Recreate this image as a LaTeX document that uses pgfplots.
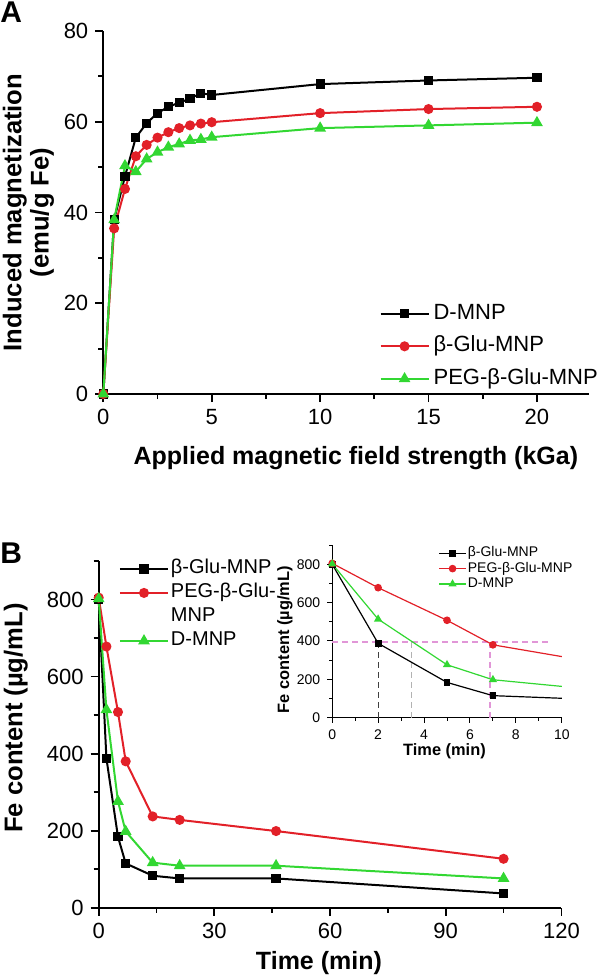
\documentclass[border=0pt]{standalone}
\usepackage{fontspec}
\setmainfont{Liberation Sans}
\usepackage{pgfplots}
\pgfplotsset{compat=1.18}
\definecolor{mred}{RGB}{226,32,40}
\definecolor{mgreen}{RGB}{50,215,50}
\definecolor{dpink}{RGB}{225,150,215}
\pgfplotsset{
  base/.style={
    scale only axis, clip=false,
    axis x line*=bottom, axis y line*=left,
    tick align=outside,
    /pgf/number format/assume math mode=true,
    tick style={black, line width=0.9pt},
    axis line style={line width=1.1pt, black},
    major tick length=4pt, minor tick length=2.5pt,
    legend cell align=left,
    legend image code/.code={\draw[mark repeat=2,mark phase=2,##1] plot coordinates {(0pt,0pt)(12pt,0pt)(24pt,0pt)};},
  },
  sblack/.style={black, line width=1pt, mark=square*, mark size=1.8pt, mark options={solid}},
  sred/.style={mred, line width=1pt, mark=*, mark size=2pt, mark options={solid}},
  sgreen/.style={mgreen, line width=1pt, mark=triangle*, mark size=2.4pt, mark options={solid}},
}
\begin{document}
\begin{tikzpicture}
\path[use as bounding box] (0,0) rectangle (300pt,-489.5pt);
\node[anchor=north west, inner sep=0pt, font=\bfseries\fontsize{15}{15}\selectfont] at (0pt,-0.5pt) {A};
\node[anchor=north west, inner sep=0pt, font=\bfseries\fontsize{15}{15}\selectfont] at (0pt,-271pt) {B};

% Panel A
\begin{axis}[base,
  at={(51.65pt,-197pt)}, anchor=south west,
  width=242.85pt, height=181.5pt,
  xmin=0, xmax=22.4, ymin=0, ymax=80,
  xtick={0,5,10,15,20}, ytick={0,20,40,60,80},
  minor xtick={2.5,7.5,12.5,17.5}, minor ytick={10,30,50,70},
  ticklabel style={font=\fontsize{11}{13}\selectfont},
  xlabel={Applied magnetic field strength (kGa)},
  xlabel style={font=\bfseries\fontsize{12.5}{15}\selectfont, at={(axis description cs:0.52,-0.176)}, anchor=center},
  ylabel={Induced magnetization\\(emu/g Fe)},
  ylabel style={font=\bfseries\fontsize{12.8}{13.6}\selectfont, align=center, at={(axis description cs:-0.154,0.5)}, anchor=center},
  legend style={at={(axis description cs:0.568,0.262)}, anchor=north west, draw=none, fill=none, inner sep=0pt,
    row sep=1.75pt, font=\fontsize{11}{13}\selectfont,
    nodes={inner sep=2pt, text height=8pt, text depth=2.5pt}},
]
\addplot[sblack] coordinates {(0,0)(0.5,38.4)(1,48.0)(1.5,56.5)(2,59.7)(2.5,61.9)(3,63.3)(3.5,64.2)(4,65.1)(4.5,66.3)(5,65.9)(10,68.3)(15,69.1)(20,69.7)};
\addlegendentry{D-MNP}
\addplot[sred] coordinates {(0,0)(0.5,36.5)(1,45.2)(1.5,52.4)(2,54.9)(2.5,56.5)(3,57.7)(3.5,58.6)(4,59.2)(4.5,59.6)(5,59.9)(10,61.9)(15,62.8)(20,63.3)};
\addlegendentry{β-Glu-MNP}
\addplot[sgreen] coordinates {(0,0)(0.5,38.4)(1,50.3)(1.5,49.0)(2,51.8)(2.5,53.3)(3,54.4)(3.5,55.1)(4,55.9)(4.5,56.1)(5,56.6)(10,58.6)(15,59.2)(20,59.8)};
\addlegendentry{PEG-β-Glu-MNP}
\end{axis}

% Panel B main
\begin{axis}[base,
  at={(49.35pt,-453.85pt)}, anchor=south west,
  width=231.35pt, height=173.35pt,
  xmin=0, xmax=120, ymin=0, ymax=900,
  xtick={0,30,60,90,120}, ytick={0,200,400,600,800},
  minor xtick={15,45,75,105}, minor ytick={100,300,500,700,900},
  ticklabel style={font=\fontsize{11}{13}\selectfont},
  xlabel={Time (min)},
  xlabel style={font=\bfseries\fontsize{12.5}{15}\selectfont, at={(axis description cs:0.476,-0.16)}, anchor=center},
  ylabel={Fe content (µg/mL)},
  ylabel style={font=\bfseries\fontsize{12.8}{15}\selectfont, at={(axis description cs:-0.179,0.547)}, anchor=center},
  legend style={at={(axis description cs:0.043,1.013)}, anchor=north west, draw=none, fill=none, inner sep=0pt,
    row sep=0pt, font=\fontsize{10}{12}\selectfont,
    nodes={inner sep=1pt, text height=7.5pt, text depth=2.5pt}},
]
\addplot[sblack] coordinates {(0,800)(2,388)(5,184)(7,115)(14,83)(21,76)(46,76)(105,37)};
\addlegendentry{β-Glu-MNP}
\addplot[sred] coordinates {(0,805)(2,678)(5,508)(7,380)(14,237)(21,228)(46,199)(105,127)};
\addlegendentry{PEG-β-Glu-}
\addlegendimage{empty legend}
\addlegendentry{MNP}
\addplot[sgreen] coordinates {(0,802)(2,514)(5,276)(7,198)(14,117)(21,109)(46,109)(105,76)};
\addlegendentry{D-MNP}
\end{axis}

% Inset
\begin{axis}[base,
  clip=true,
  at={(166.1pt,-358.85pt)}, anchor=south west,
  width=114.8pt, height=86.3pt,
  xmin=0, xmax=10, ymin=0, ymax=900,
  xtick={0,2,4,6,8,10}, ytick={0,200,400,600,800},
  minor xtick={1,3,5,7,9}, minor ytick={100,300,500,700,900},
  axis line style={line width=0.6pt, black},
  tick style={black, line width=0.5pt},
  major tick length=2.5pt, minor tick length=1.5pt,
  ticklabel style={font=\fontsize{7}{8}\selectfont},
  xlabel={Time (min)},
  xlabel style={font=\bfseries\fontsize{8.2}{10}\selectfont, at={(axis description cs:0.489,-0.197)}, anchor=center},
  ylabel={Fe content (µg/mL)},
  ylabel style={font=\bfseries\fontsize{8.2}{10}\selectfont, at={(axis description cs:-0.206,0.453)}, anchor=center},
  legend image code/.code={\draw[mark repeat=2,mark phase=2,#1] plot coordinates {(0pt,0pt)(6.75pt,0pt)(13.5pt,0pt)};},
  legend style={at={(axis description cs:0.461,1.0)}, anchor=north west, draw=none, fill=none, inner sep=0pt,
    row sep=0pt, font=\fontsize{7}{8}\selectfont,
    nodes={inner sep=0.6pt, text height=5pt, text depth=1.5pt}},
]
\draw[dpink, densely dashed, line width=0.6pt] (axis cs:0,395) -- (axis cs:9.5,395);
\draw[black!75, densely dashed, line width=0.6pt] (axis cs:2,0) -- (axis cs:2,388);
\draw[black!30, densely dashed, line width=0.6pt] (axis cs:3.46,0) -- (axis cs:3.46,395);
\draw[dpink, densely dashed, line width=0.6pt] (axis cs:6.87,0) -- (axis cs:6.87,380);
\addplot[black, line width=0.6pt, forget plot] coordinates {(7,115)(14,83)};
\addplot[mred, line width=0.6pt, forget plot] coordinates {(7,380)(14,237)};
\addplot[mgreen, line width=0.6pt, forget plot] coordinates {(7,198)(14,117)};
\addplot[black, line width=0.6pt, mark=square*, mark size=1.4pt] coordinates {(0,800)(2,388)(5,184)(7,115)};
\addlegendentry{β-Glu-MNP}
\addplot[mred, line width=0.6pt, mark=*, mark size=1.6pt] coordinates {(0,805)(2,678)(5,508)(7,380)};
\addlegendentry{PEG-β-Glu-MNP}
\addplot[mgreen, line width=0.6pt, mark=triangle*, mark size=1.8pt] coordinates {(0,802)(2,514)(5,276)(7,198)};
\addlegendentry{D-MNP}
\end{axis}
\end{tikzpicture}
\end{document}
